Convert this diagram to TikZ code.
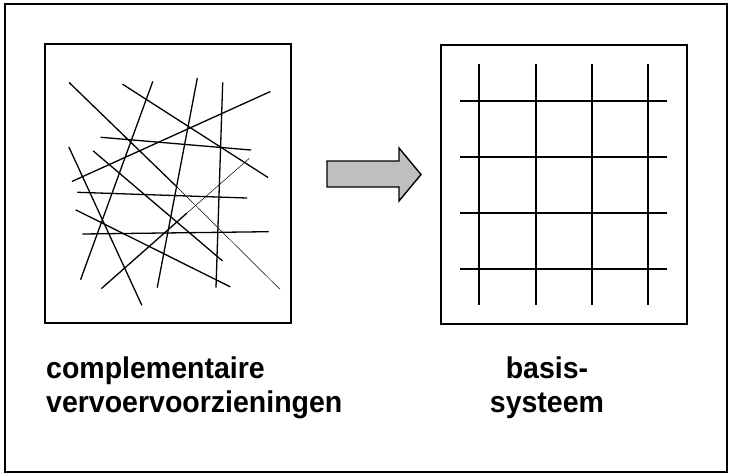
\documentclass[tikz,border=0pt]{standalone}
\usepackage{fontspec}
\newfontfamily\labelfont[FakeStretch=0.95]{Liberation Sans}
\newcommand\captionfont{\labelfont\bfseries\fontsize{30}{34}\selectfont}
\usetikzlibrary{positioning, calc}

\begin{document}
\begin{tikzpicture}[x=1pt, y=-1pt,
  border/.style={draw, line width=1.8pt},
  panel/.style={rectangle, draw, line width=1.1pt, minimum width=246pt, minimum height=279pt, inner sep=0pt},
  route/.style={line width=1.3pt, line cap=round},
  faint/.style={line width=0.5pt},
  gridline/.style={line width=1.9pt},
  blockarrow/.style={draw, line width=1.4pt, fill=gray!50, line join=miter},
  caption/.style={font=\captionfont, inner sep=0pt}
]
\useasboundingbox (0,0) rectangle (729,474);
\draw[border] (5,4) rectangle (727,472);

\node[panel] (mesh) at (168,183.5) {};
\node[panel] (network) at (564,184.5) {};

\draw[route] (69.3,82.7) -- (176.7,186.7);
\draw[faint] (176.7,186.7) -- (280,289.3);
\draw[route] (122.7,84.3) -- (267.7,177.3);
\draw[route] (152.7,81.7) -- (80.7,279.3);
\draw[route] (197.3,78.3) -- (157.3,287.3);
\draw[route] (222.7,82.7) -- (216,287.3);
\draw[route] (270,91.7) -- (72.3,181.3);
\draw[route] (101,137.3) -- (250.7,150);
\draw[route] (69,147.3) -- (141.7,305);
\draw[route] (93.3,151) -- (222.3,260.7);
\draw[faint] (249.3,158.3) -- (186.7,213.3);
\draw[route] (186.7,213.3) -- (101.7,288.3);
\draw[route] (77.7,192.3) -- (246.7,198);
\draw[route] (76,210) -- (230,286.7);
\draw[route] (82.7,234) -- (268.3,231.7);

\draw[blockarrow] (327,161) -- (399,161) -- (399,148) -- (421,174.5) -- (399,201) -- (399,187) -- (327,187) -- cycle;

\foreach \x in {479,536,592,648}
  \draw[gridline] (\x,64) -- (\x,305);
\foreach \y in {101,157,213,269}
  \draw[gridline] (460,\y) -- (667,\y);

\node[caption, anchor=north west, align=left] (meshlabel) at (46,357) {complementaire\\vervoervoorzieningen};
\node[caption, anchor=north, align=center] (networklabel) at (547,357) {basis-\\systeem};
\end{tikzpicture}
\end{document}
